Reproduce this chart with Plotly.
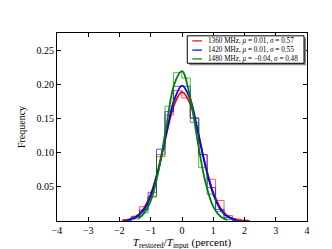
import plotly.graph_objects as go

# ---- data ----
bin_edges = [-1.895, -1.625, -1.355, -1.085, -0.815, -0.545, -0.275, -0.005,
             0.265, 0.535, 0.805, 1.075, 1.345, 1.615, 1.885, 2.155]
hist_1360 = [0.002, 0.007, 0.021, 0.036, 0.094, 0.155, 0.191, 0.180, 0.150, 0.097, 0.061, 0.030, 0.008, 0.003, 0.001]
hist_1420 = [0.001, 0.006, 0.016, 0.042, 0.105, 0.160, 0.197, 0.197, 0.151, 0.097, 0.049, 0.017, 0.005, 0.001, 0.0]
hist_1480 = [0.0, 0.003, 0.012, 0.035, 0.097, 0.168, 0.217, 0.209, 0.144, 0.078, 0.039, 0.014, 0.002, 0.0, 0.0]

fit_x_1360 = [-1.9, -1.75, -1.5, -1.25, -1.0, -0.75, -0.5, -0.25, 0.0, 0.25, 0.5, 0.75, 1.0, 1.25, 1.5, 1.75, 2.0, 2.15]
fit_y_1360 = [0.0007, 0.0016, 0.0057, 0.0164, 0.0393, 0.0777, 0.1267, 0.1703, 0.189, 0.173, 0.1306, 0.0814, 0.0418, 0.0177, 0.0062, 0.0018, 0.0004, 0.0002]
fit_x_1420 = [-1.75, -1.5, -1.25, -1.0, -0.75, -0.5, -0.25, 0.0, 0.25, 0.5, 0.75, 1.0, 1.25, 1.5, 1.75]
fit_y_1420 = [0.0012, 0.0046, 0.0144, 0.0367, 0.0762, 0.1288, 0.1771, 0.198, 0.180, 0.1331, 0.0801, 0.0392, 0.0156, 0.0050, 0.0013]
fit_x_1480 = [-1.4, -1.25, -1.0, -0.75, -0.5, -0.25, 0.0, 0.25, 0.5, 0.75, 1.0, 1.25, 1.45]
fit_y_1480 = [0.0040, 0.0092, 0.0298, 0.0737, 0.139, 0.1999, 0.2192, 0.1833, 0.1168, 0.0568, 0.0210, 0.0059, 0.0018]

labels = ["1360 MHz, <i>μ</i> = 0.01, <i>σ</i> = 0.57",
          "1420 MHz, <i>μ</i> = 0.01, <i>σ</i> = 0.55",
          "1480 MHz, <i>μ</i> = −0.04, <i>σ</i> = 0.48"]
colors = ["#FF0000", "#0000FF", "#008000"]

x_ticks = [-4, -3, -2, -1, 0, 1, 2, 3, 4]
y_ticks = [0.05, 0.10, 0.15, 0.20, 0.25]
y_ticktext = ["0.05", "0.10", "0.15", "0.20", "0.25"]

FONT = "Liberation Serif"


def step_xy(edges, vals):
    xs, ys = [edges[0]], [0.0]
    for i, v in enumerate(vals):
        xs += [edges[i], edges[i + 1]]
        ys += [v, v]
    xs.append(edges[-1])
    ys.append(0.0)
    return xs, ys


fig = go.Figure()
series = [(hist_1360, fit_x_1360, fit_y_1360), (hist_1420, fit_x_1420, fit_y_1420),
          (hist_1480, fit_x_1480, fit_y_1480)]
for (h, fx, fy), c, lab in zip(series, colors, labels):
    sx, sy = step_xy(bin_edges, h)
    fig.add_trace(go.Scatter(x=sx, y=sy, mode="lines", line=dict(color=c, width=1),
                             opacity=0.65, showlegend=False, hoverinfo="skip"))
    fig.add_trace(go.Scatter(x=fx, y=fy, mode="lines", line=dict(color=c, width=1.8, shape="spline"),
                             name=lab, showlegend=False))

# manual legend (matplotlib style)
lx0, lx1, ly0, ly1 = 0.521, 0.988, 0.839, 0.985
fig.add_shape(type="rect", xref="paper", yref="paper", x0=lx0 + 0.008, x1=lx1 + 0.008,
              y0=ly0 - 0.010, y1=ly1 - 0.010, line=dict(width=0), fillcolor="#888888")
fig.add_shape(type="rect", xref="paper", yref="paper", x0=lx0, x1=lx1, y0=ly0, y1=ly1,
              line=dict(color="black", width=1), fillcolor="white")
leg_y = [0.958, 0.909, 0.862]
for c, lab, yy in zip(colors, labels, leg_y):
    fig.add_shape(type="line", xref="paper", yref="paper", x0=0.541, x1=0.580, y0=yy, y1=yy,
                  line=dict(color=c, width=1.2))
    fig.add_annotation(xref="paper", yref="paper", x=0.596, y=yy, text=lab, showarrow=False,
                       xanchor="left", yanchor="middle", font=dict(family=FONT, size=7.2, color="black"))

axis_common = dict(showline=True, linecolor="black", linewidth=1, mirror="ticks", ticks="inside",
                   ticklen=4, tickcolor="black", showgrid=False, zeroline=False,
                   tickfont=dict(family=FONT, size=10, color="black"))
fig.update_xaxes(range=[-4, 4], tickvals=x_ticks,
                 title=dict(text="<i>T</i><sub>restored</sub>/<i>T</i><sub>input</sub> (percent)",
                            font=dict(family=FONT, size=11, color="black"), standoff=1),
                 **axis_common)
fig.update_yaxes(range=[0, 0.275], tickvals=y_ticks, ticktext=y_ticktext,
                 title=dict(text="Frequency", font=dict(family=FONT, size=10, color="black"), standoff=9),
                 **axis_common)
fig.update_layout(width=332, height=249, margin=dict(l=42, r=33, t=25, b=25),
                  plot_bgcolor="white", paper_bgcolor="white", showlegend=False)

fig.write_html("out.html")
